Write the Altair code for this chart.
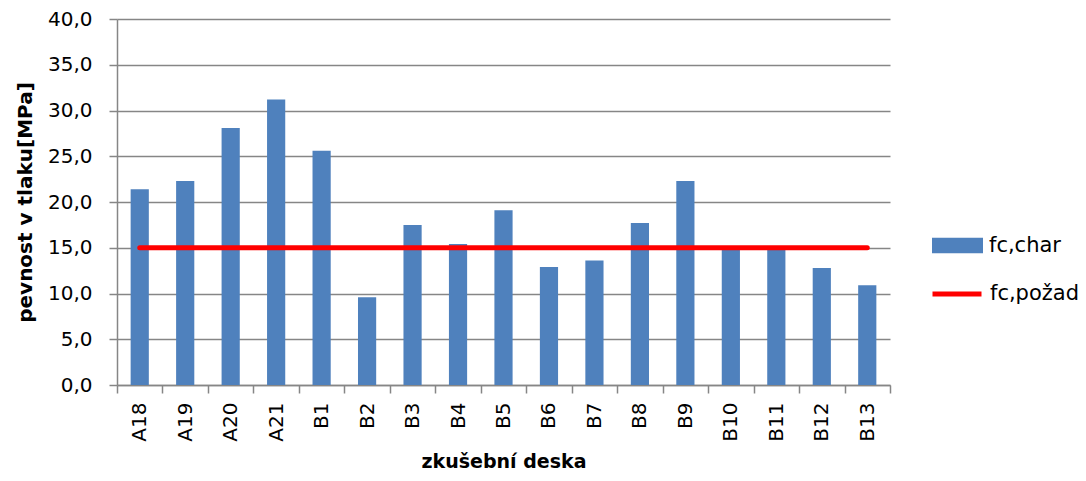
import altair as alt
import pandas as pd

categories = ["A18", "A19", "A20", "A21", "B1", "B2", "B3", "B4", "B5",
              "B6", "B7", "B8", "B9", "B10", "B11", "B12", "B13"]
fc_char = [21.4, 22.3, 28.1, 31.2, 25.6, 9.6, 17.5, 15.4, 19.1,
           12.9, 13.6, 17.7, 22.3, 15.1, 15.1, 12.8, 10.9]
fc_pozad = [15.0] * 17
y_ticks = [0, 5, 10, 15, 20, 25, 30, 35, 40]

FONT = "DejaVu Sans"

df = pd.DataFrame({
    "deska": categories,
    "fc_char": fc_char,
    "fc_pozad": fc_pozad,
    "s1": ["fc,char"] * len(categories),
    "s2": ["fc,požad"] * len(categories),
})

x_enc = alt.X(
    "deska:N",
    sort=categories,
    scale=alt.Scale(paddingInner=0, paddingOuter=0),
    axis=alt.Axis(
        title="zkušební deska",
        labelAngle=-90,
        labelFont=FONT,
        labelFontSize=20,
        labelColor="#000000",
        labelPadding=9,
        tickBand="extent",
        tickSize=8,
        tickColor="#868686",
        domainColor="#868686",
        domainWidth=1.5,
        tickWidth=1.5,
        titleFont=FONT,
        titleFontSize=19,
        titleFontWeight="bold",
        titleColor="#000000",
        titlePadding=11,
        grid=False,
    ),
)

y_scale = alt.Scale(domain=[0, 40], nice=False)
y_axis = alt.Axis(
    title="pevnost v tlaku[MPa]",
    values=y_ticks,
    labelExpr="replace(format(datum.value, '.1f'), '.', ',')",
    labelFont=FONT,
    labelFontSize=20,
    labelColor="#000000",
    labelPadding=17,
    tickSize=8,
    tickColor="#868686",
    tickWidth=1.5,
    domainColor="#868686",
    domainWidth=1.5,
    grid=True,
    gridColor="#868686",
    gridWidth=1.3,
    titleFont=FONT,
    titleFontSize=20,
    titleFontWeight="bold",
    titleColor="#000000",
    titlePadding=12,
)

bars = alt.Chart(df).mark_bar(width=alt.RelativeBandSize(0.4)).encode(
    x=x_enc,
    y=alt.Y("fc_char:Q", scale=y_scale, axis=y_axis),
    color=alt.Color(
        "s1:N",
        scale=alt.Scale(domain=["fc,char"], range=["#4F81BD"]),
        legend=alt.Legend(
            title=None,
            orient="none",
            legendX=815,
            legendY=201,
            padding=0,
            symbolType="M-1,-0.3H1V0.3H-1Z",
            symbolSize=2601,
            symbolStrokeWidth=0,
            symbolOpacity=1,
            labelFont=FONT,
            labelFontSize=21,
            labelColor="#000000",
            labelOffset=6,
        ),
    ),
)

line = alt.Chart(df).mark_line(strokeWidth=5, strokeCap="round").encode(
    x=alt.X("deska:N", sort=categories),
    y=alt.Y("fc_pozad:Q", scale=y_scale),
    stroke=alt.Stroke(
        "s2:N",
        scale=alt.Scale(domain=["fc,požad"], range=["#FF0000"]),
        legend=alt.Legend(
            title=None,
            orient="none",
            legendX=813,
            legendY=248,
            padding=0,
            symbolType="stroke",
            symbolSize=2401,
            symbolStrokeWidth=5,
            labelFont=FONT,
            labelFontSize=21,
            labelColor="#000000",
            labelOffset=6,
        ),
    ),
)

chart = alt.layer(bars, line).properties(
    width=773,
    height=366,
    background="#ffffff",
    autosize=alt.AutoSizeParams(type="none"),
    padding={"left": 109, "top": 11, "right": 188, "bottom": 88},
).configure_view(stroke=None)

chart.save("out.html", embed_options={"renderer": "svg", "actions": False})
